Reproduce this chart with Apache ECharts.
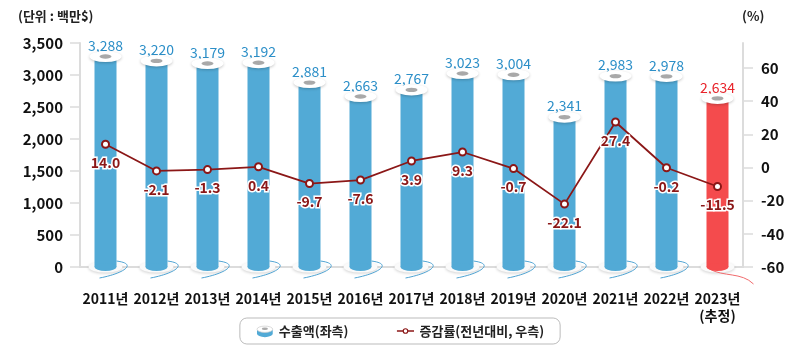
<!DOCTYPE html>
<html><head><meta charset="utf-8">
<script src="https://cdn.jsdelivr.net/npm/echarts@6/dist/echarts.min.js"></script>
<style>html,body{margin:0;padding:0;background:#fff}#c{width:800px;height:362px}</style>
</head><body><div id="c"></div>
<script>
const years = ['2011년','2012년','2013년','2014년','2015년','2016년','2017년','2018년','2019년','2020년','2021년','2022년','2023년\n(추정)'];
const exports = [3288,3220,3179,3192,2881,2663,2767,3023,3004,2341,2983,2978,2634];
const rates = [14.0,-2.1,-1.3,0.4,-9.7,-7.6,3.9,9.3,-0.7,-22.1,27.4,-0.2,-11.5];
const leftTicks = [0,500,1000,1500,2000,2500,3000,3500];
const rightTicks = [-60,-40,-20,0,20,40,60];
const estimatedIndex = 12;

const FONT = '"Noto Sans CJK KR","Noto Sans",sans-serif';
const BLUE = '#52aad6', RED = '#f44b4d', LINE = '#8b1717';
const fmt = v => String(v).replace(/\B(?=(\d{3})+(?!\d))/g, ',');

const barSvg = '<svg xmlns="http://www.w3.org/2000/svg" width="20" height="16"><path d="M1,6 L1,11 A9,4 0 0 0 19,11 L19,6 Z" fill="#52aad6"/><ellipse cx="10" cy="6" rx="9" ry="3.6" fill="#fff" stroke="#ccc" stroke-width="0.8"/><ellipse cx="10" cy="5.5" rx="3.5" ry="1.4" fill="#aaa"/></svg>';
const lineSvg = '<svg xmlns="http://www.w3.org/2000/svg" width="20" height="16"><line x1="0" y1="8" x2="20" y2="8" stroke="#8b1717" stroke-width="1.5"/><circle cx="10" cy="8" r="2.6" fill="#fff" stroke="#8b1717" stroke-width="1.3"/></svg>';
const barIcon = 'image://data:image/svg+xml;charset=utf-8,' + encodeURIComponent(barSvg);
const lineIcon = 'image://data:image/svg+xml;charset=utf-8,' + encodeURIComponent(lineSvg);

function ell(cx, cy, rx, ry, style) {
  return { type: 'circle', x: cx, y: cy, scaleY: ry / rx, shape: { cx: 0, cy: 0, r: rx }, style: style };
}

const chart = echarts.init(document.getElementById('c'), null, { renderer: 'canvas' });
chart.setOption({
  animation: false,
  textStyle: { fontFamily: FONT },
  grid: { left: 80, right: 57, top: 43, bottom: 95 },
  graphic: [
    { type: 'text', left: 18, top: 10, style: { text: '(단위 : 백만$)', font: 'bold 13px ' + FONT, fill: '#222' } },
    { type: 'text', left: 742, top: 10, style: { text: '(%)', font: 'bold 13px ' + FONT, fill: '#222' } }
  ],
  legend: {
    bottom: 18, left: 'center',
    padding: [6, 16, 6, 16],
    borderColor: '#bbb', borderWidth: 1, borderRadius: 7,
    itemGap: 48, itemWidth: 18, itemHeight: 14,
    textStyle: { fontFamily: FONT, fontSize: 13, fontWeight: 'bold', color: '#222' },
    data: [
      { name: '수출액(좌측)', icon: barIcon },
      { name: '증감률(전년대비, 우측)', icon: lineIcon }
    ]
  },
  xAxis: {
    type: 'category', data: years,
    axisLine: { lineStyle: { color: '#dcdcdc', width: 2 } },
    axisTick: { show: false },
    axisLabel: { interval: 0, margin: 23, fontFamily: FONT, fontSize: 14, fontWeight: 'bold', color: '#111', lineHeight: 17 }
  },
  yAxis: [
    {
      type: 'value', min: 0, max: 3500, interval: 500,
      splitLine: { show: false },
      axisLine: { show: true, lineStyle: { color: '#dcdcdc', width: 2 } },
      axisTick: { show: true, length: 10, lineStyle: { color: '#dcdcdc', width: 1.5 }, customValues: leftTicks },
      axisLabel: { margin: 17, fontFamily: FONT, fontSize: 15, fontWeight: 'bold', color: '#111', formatter: fmt, customValues: leftTicks }
    },
    {
      type: 'value', min: -60, max: 75, interval: 20,
      splitLine: { show: false },
      axisLine: { show: true, lineStyle: { color: '#dcdcdc', width: 2 } },
      axisTick: { show: true, length: 10, lineStyle: { color: '#dcdcdc', width: 1.5 }, customValues: rightTicks },
      axisLabel: { margin: 18, fontFamily: FONT, fontSize: 15, fontWeight: 'bold', color: '#111', customValues: rightTicks }
    }
  ],
  series: [
    {
      type: 'custom', z: 1, silent: true,
      data: exports.map((v, i) => [i, v]),
      renderItem: function (params, api) {
        const i = api.value(0);
        const b = api.coord([i, 0]);
        const cx = b[0], by = b[1];
        const red = i === estimatedIndex;
        const col = red ? '#f06a6c' : '#4fa3d2';
        const curve = red
          ? { type: 'bezierCurve', shape: { x1: cx - 8, y1: by + 2, cpx1: cx + 6, cpy1: by + 10, cpx2: cx + 24, cpy2: by + 5, x2: cx + 36, y2: by + 17 }, style: { stroke: col, lineWidth: 1, fill: null } }
          : { type: 'bezierCurve', shape: { x1: cx + 11, y1: by - 6, cpx1: cx + 34, cpy1: by - 3, cpx2: cx + 16, cpy2: by + 7, x2: cx - 6, y2: by + 11 }, style: { stroke: col, lineWidth: 1, fill: null } };
        return { type: 'group', children: [
          ell(cx, by, 17, 5.5, { fill: '#fafafa', shadowBlur: 3, shadowColor: 'rgba(0,0,0,0.18)', shadowOffsetY: 1 }),
          curve
        ] };
      }
    },
    {
      name: '수출액(좌측)', type: 'bar', z: 2, barWidth: 22,
      data: exports.map((v, i) => ({
        value: v,
        itemStyle: { color: i === estimatedIndex ? RED : BLUE },
        label: { color: i === estimatedIndex ? '#e8242b' : '#2c8fc8' }
      })),
      label: {
        show: true, position: 'top', distance: 4,
        fontFamily: FONT, fontSize: 14,
        formatter: p => fmt(p.value)
      }
    },
    {
      type: 'custom', z: 3, silent: true,
      data: exports.map((v, i) => [i, v]),
      renderItem: function (params, api) {
        const i = api.value(0);
        const t = api.coord([i, api.value(1)]);
        const b = api.coord([i, 0]);
        const red = i === estimatedIndex;
        return { type: 'group', children: [
          ell(b[0], b[1], 11, 4, { fill: red ? RED : BLUE }),
          ell(t[0], t[1], 16, 5.5, { fill: '#ffffff', shadowBlur: 3, shadowColor: 'rgba(0,0,0,0.22)', shadowOffsetY: 1 }),
          ell(t[0], t[1], 6, 2.2, { fill: '#a9a9a9' })
        ] };
      }
    },
    {
      name: '증감률(전년대비, 우측)', type: 'line', yAxisIndex: 1, z: 5,
      data: rates,
      symbol: 'circle', symbolSize: 7,
      itemStyle: { color: '#fff', borderColor: LINE, borderWidth: 2 },
      lineStyle: { color: LINE, width: 1.8 },
      label: {
        show: true, position: 'bottom', distance: 7,
        fontFamily: FONT, fontSize: 14, fontWeight: 'bold', color: LINE,
        textBorderColor: '#fff', textBorderWidth: 3,
        formatter: p => p.value.toFixed(1)
      }
    }
  ]
});
</script></body></html>
